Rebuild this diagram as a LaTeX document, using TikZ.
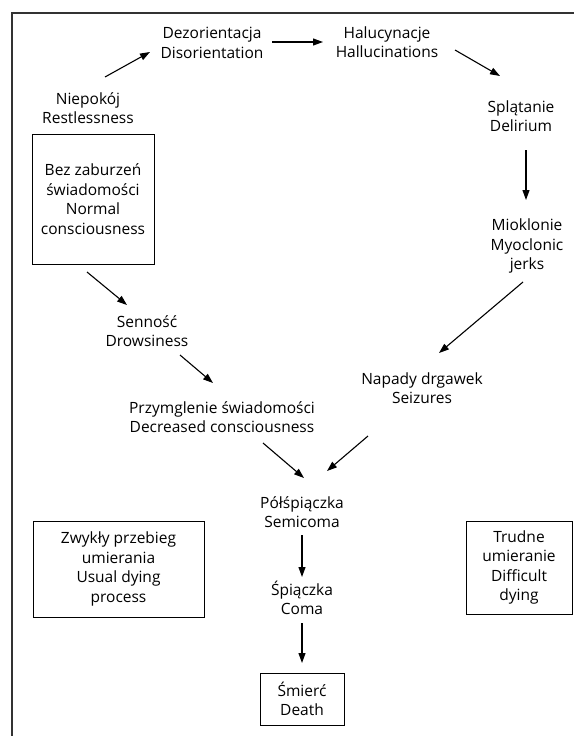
\documentclass[tikz,border=0pt]{standalone}
\usepackage{fontspec}
\setmainfont{Open Sans}
\usetikzlibrary{arrows.meta}
\begin{document}
\begin{tikzpicture}[x=1pt,y=-1pt,
  lbl/.style={align=center,font=\fontsize{15.5}{19.5}\selectfont,inner sep=0pt},
  boxed/.style={lbl,draw,line width=1pt},
  arr/.style={-{Triangle[length=10pt,width=7pt]},line width=1.1pt},
  frame/.style={line width=1.3pt,black!80}]
\useasboundingbox (0,0) rectangle (574,736);
\draw[frame] (12,736) -- (12,13) -- (574,13);
% labels
\node[lbl] (dez) at (212,43) {Dezorientacja\\Disorientation};
\node[lbl] (hal) at (387,42) {Halucynacje\\Hallucinations};
\node[lbl] (spl) at (521,116) {Splątanie\\Delirium};
\node[lbl] (mio) at (527,246) {Mioklonie\\Myoclonic\\jerks};
\node[lbl] (nie) at (88,108) {Niepokój\\Restlessness};
\node[lbl] (sen) at (147,331) {Senność\\Drowsiness};
\node[lbl] (prz) at (222,417) {Przymglenie świadomości\\Decreased consciousness};
\node[lbl] (nap) at (422,388) {Napady drgawek\\Seizures};
\node[lbl] (pol) at (302,512) {Półśpiączka\\Semicoma};
\node[lbl] (spi) at (302,598) {Śpiączka\\Coma};
% boxes
\node[boxed,minimum width=122pt,minimum height=130pt] (bez) at (93,199) {Bez zaburzeń\\świadomości\\Normal\\consciousness};
\node[boxed,minimum width=171pt,minimum height=96pt] (zwy) at (118.5,569) {Zwykły przebieg\\umierania\\Usual dying\\process};
\node[boxed,minimum width=106pt,minimum height=93pt] (tru) at (519,567.5) {Trudne\\umieranie\\Difficult\\dying};
\node[boxed,minimum width=84pt,minimum height=52pt] (smi) at (302,699) {Śmierć\\Death};
% arrows
\draw[arr] ([shift={(17,-31)}]nie.center) -- ([shift={(-62,9)}]dez.center);
\draw[arr] ([shift={(60,-1)}]dez.center) -- ([shift={(-64,0)}]hal.center);
\draw[arr] ([shift={(68,8)}]hal.center) -- ([shift={(-21,-40)}]spl.center);
\draw[arr] ([shift={(5,34)}]spl.center) -- ([shift={(5,-46)}]spl.center |- mio.center);
\draw[arr] ([shift={(-4,36)}]mio.center) -- ([shift={(17,-35)}]nap.center);
\draw[arr] ([shift={(-6,73)}]bez.center) -- ([shift={(-20,-26)}]sen.center);
\draw[arr] ([shift={(33,24)}]sen.center) -- ([shift={(-9,-34)}]prz.center);
\draw[arr] ([shift={(41,26)}]prz.center) -- ([shift={(2,-34)}]pol.center);
\draw[arr] ([shift={(-54,48)}]nap.center) -- ([shift={(25,-41)}]pol.center);
\draw[arr] ([shift={(0,23)}]pol.center) -- ([shift={(0,-21)}]spi.center);
\draw[arr] ([shift={(0,25)}]spi.center) -- ([shift={(0,-36)}]smi.center);
\end{tikzpicture}
\end{document}
